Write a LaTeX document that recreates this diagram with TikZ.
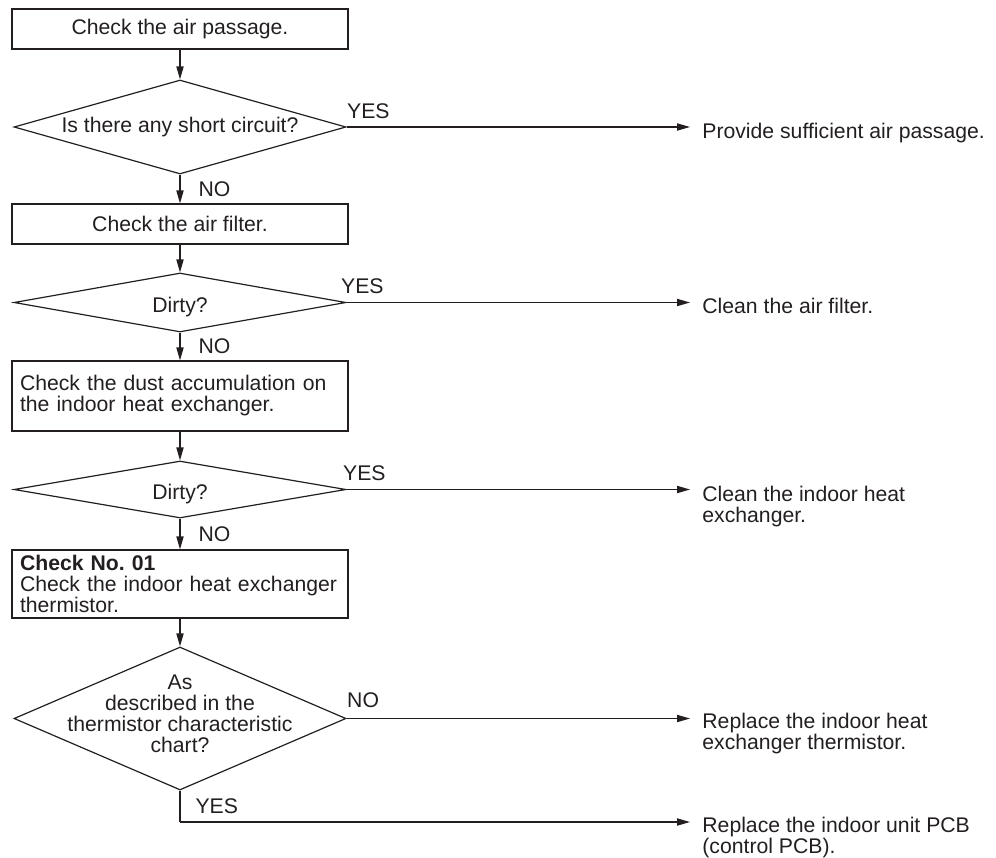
\documentclass[tikz,border=0pt]{standalone}
\usepackage{fontspec}
\setmainfont{Liberation Sans}
\usetikzlibrary{shapes.geometric, arrows.meta, positioning}
\definecolor{ink}{RGB}{35, 31, 32}
\frenchspacing

\begin{document}
\begin{tikzpicture}[
  x=0.5pt, y=-0.5pt,
  font=\fontsize{10.6}{10.5}\selectfont,
  every node/.style={text=ink},
  procbox/.style={draw=ink, line width=0.6pt, minimum width=168pt, inner sep=0pt},
  leftbox/.style={procbox, text width=160pt, align=left, inner xsep=4pt},
  decision/.style={diamond, draw=ink, line width=0.6pt, inner sep=0pt, minimum width=166pt},
  result/.style={anchor=north west, align=left, inner xsep=6pt, inner ysep=0pt},
  ans/.style={inner sep=0pt},
  flow/.style={draw=ink, line width=0.6pt, -{Triangle[length=6.5pt, width=3.6pt]}},
  wire/.style={draw=ink, line width=0.6pt}
]
  \useasboundingbox (0,0) rectangle (996,857);

  \node[procbox, minimum height=20pt] (chk1) at (180,29) {Check the air passage.};
  \node[decision, minimum height=47pt] (q1) at (180,127) {};
  \node (q1t) at (q1) {Is there any short circuit?};
  \node[procbox, minimum height=20pt] (chk2) at (180,224) {Check the air filter.};
  \node[decision, minimum height=29.5pt] (q2) at (180,302.5) {};
  \node[yshift=-2.5pt] (q2t) at (q2) {Dirty?};
  \node[leftbox, minimum height=35pt] (chk3) at (180,396) {Check the dust accumulation on\\the indoor heat exchanger.};
  \node[decision, minimum height=28.5pt] (q3) at (180,489.5) {};
  \node[yshift=-2.5pt] (q3t) at (q3) {Dirty?};
  \node[leftbox, minimum height=34pt] (chk4) at (180,584) {\textbf{Check No.\ 01}\\Check the indoor heat exchanger\\thermistor.};
  \node[decision, minimum height=71.5pt] (q4) at (180,718.5) {};
  \node[align=center, yshift=2.5pt] (q4t) at (q4) {As\\described in the\\thermistor characteristic\\chart?};

  \node[result] (res1) at (690,123) {Provide sufficient air passage.};
  \node[result] (res2) at (690,298) {Clean the air filter.};
  \node[result] (res3) at (690,486) {Clean the indoor heat\\exchanger.};
  \node[result] (res4) at (690,713) {Replace the indoor heat\\exchanger thermistor.};
  \node[result] (res5) at (690,817) {Replace the indoor unit PCB\\(control PCB).};
  \coordinate (bend) at (180,822);

  \draw[flow] (chk1.south) -- (q1.north);
  \draw[flow] (q1.south) -- node[ans, right=9pt] (no1) {NO} (chk2.north);
  \draw[flow] (chk2.south) -- (q2.north);
  \draw[flow] (q2.south) -- node[ans, right=9pt] (no2) {NO} (chk3.north);
  \draw[flow] (chk3.south) -- (q3.north);
  \draw[flow] (q3.south) -- node[ans, right=9pt] (no3) {NO} (chk4.north);
  \draw[flow] (chk4.south) -- (q4.north);

  \draw[flow] (q1.east) -- node[ans, pos=0, above right=4pt and 0pt] (yes1) {YES} (q1.east -| res1.west);
  \draw[flow] (q2.east) -- node[ans, pos=0, above right=4pt and -3pt] (yes2) {YES} (q2.east -| res2.west);
  \draw[flow] (q3.east) -- node[ans, pos=0, above right=4pt and -2pt] (yes3) {YES} (q3.east -| res3.west);
  \draw[flow] (q4.east) -- node[ans, pos=0, above right=5pt and 0pt] (no4) {NO} (q4.east -| res4.west);
  \draw[wire] (q4.south) -- node[ans, right=7.5pt] (yes4) {YES} (bend);
  \draw[flow] (bend) -- (bend -| res5.west);
\end{tikzpicture}
\end{document}
